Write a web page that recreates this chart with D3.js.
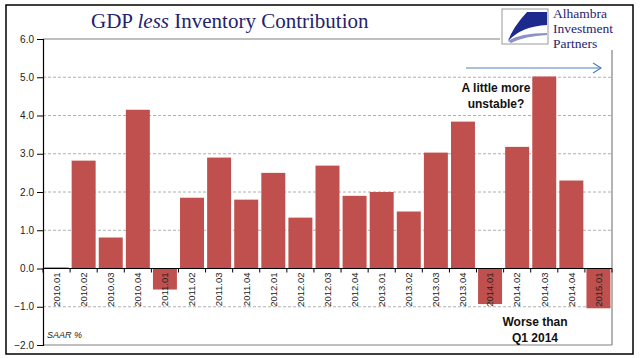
<!DOCTYPE html>
<html><head><meta charset="utf-8">
<script src="https://cdn.jsdelivr.net/npm/d3@7"></script>
<style>body{margin:0;background:#fff}svg{display:block}</style>
</head><body>
<script>
const categories = ["2010.01","2010.02","2010.03","2010.04","2011.01","2011.02","2011.03","2011.04","2012.01","2012.02","2012.03","2012.04","2013.01","2013.02","2013.03","2013.04","2014.01","2014.02","2014.03","2014.04","2015.01"];
const values = [0.03,2.82,0.81,4.15,-0.55,1.85,2.9,1.8,2.5,1.33,2.69,1.9,2.0,1.49,3.03,3.84,-0.93,3.18,5.02,2.3,-1.04];
const yTicks = [-2,-1,0,1,2,3,4,5,6];
const title = ["GDP ","less"," Inventory Contribution"];
const logoLines = ["Alhambra","Investment","Partners"];

const W = 641, H = 358;
const svg = d3.select("body").append("svg").attr("width", W).attr("height", H);

// outer frame
svg.append("rect").attr("x",6).attr("y",5).attr("width",627).attr("height",349)
  .attr("fill","#fff").attr("stroke","#000").attr("stroke-width",1.5);

const L = 43, R = 612;
const x = d3.scaleBand().domain(categories).range([L, R]).paddingInner(0.115).paddingOuter(0.0575);
const y = d3.scaleLinear().domain([-2, 6]).range([345, 39]);

// gridlines
svg.append("g").selectAll("line").data(yTicks.filter(t => t !== 0 && t !== 6 && t !== -2)).join("line")
  .attr("x1", L).attr("x2", R).attr("y1", d => y(d)).attr("y2", d => y(d))
  .attr("stroke", "#b0b0b0").attr("stroke-dasharray", "3,2").attr("stroke-width", 1);

// plot border (gray)
const border = svg.append("g").attr("stroke", "#808080").attr("stroke-width", 1.2).attr("fill", "none");
border.append("line").attr("x1", L).attr("x2", 500).attr("y1", y(6)).attr("y2", y(6));
border.append("line").attr("x1", R).attr("x2", R).attr("y1", 50).attr("y2", y(-2));
border.append("line").attr("x1", L).attr("x2", R).attr("y1", y(-2)).attr("y2", y(-2));

// bars
svg.append("g").selectAll("rect").data(categories).join("rect")
  .attr("x", d => x(d)).attr("width", x.bandwidth())
  .attr("y", (d, i) => y(Math.max(0, values[i])))
  .attr("height", (d, i) => Math.abs(y(values[i]) - y(0)))
  .attr("fill", "#C0504D");

// y axis
const yAxis = svg.append("g").attr("transform", `translate(${L},0)`)
  .call(d3.axisLeft(y).tickValues(yTicks).tickFormat(d3.format(".1f")).tickSize(6).tickPadding(3));
yAxis.select(".domain").attr("stroke", "#000").attr("stroke-width", 1.2);
yAxis.selectAll(".tick line").attr("stroke", "#000");
yAxis.selectAll("text").attr("font-family", "Liberation Sans, Arial, sans-serif").attr("font-size", 10).attr("fill", "#222");

// x axis at zero
const xAxis = svg.append("g").attr("transform", `translate(0,${y(0)})`);
xAxis.append("line").attr("x1", L).attr("x2", R).attr("stroke", "#000").attr("stroke-width", 1.2);
const step = x.step();
xAxis.selectAll("line.tk").data(d3.range(categories.length + 1)).join("line").attr("class", "tk")
  .attr("x1", i => L + i * step).attr("x2", i => L + i * step).attr("y1", 0).attr("y2", 4)
  .attr("stroke", "#000");
xAxis.selectAll("text").data(categories).join("text")
  .attr("transform", d => `translate(${x(d) + x.bandwidth()/2},4) rotate(-90)`)
  .attr("text-anchor", "end").attr("dy", "0.35em")
  .attr("font-family", "Liberation Sans, Arial, sans-serif").attr("font-size", 9.5).attr("fill", "#222")
  .text(d => d);

// title
const t = svg.append("text").attr("x", 91).attr("y", 28)
  .attr("font-family", "Liberation Serif, Times New Roman, serif").attr("font-size", 21).attr("fill", "#1f2370");
t.append("tspan").text(title[0]);
t.append("tspan").attr("font-style", "italic").text(title[1]);
t.append("tspan").text(title[2]);

// logo
svg.append("rect").attr("x", 502).attr("y", 9).attr("width", 46).attr("height", 35)
  .attr("fill", "#fff").attr("stroke", "#9a9a9a");
svg.append("path").attr("d", "M527,12 L547,12 L547,25 Q522,26 508,41 Q513,27 527,12 Z").attr("fill", "#1b2a8c");
svg.append("path").attr("d", "M508,41 Q520,33 547,33 L547,35 Q525,36 511,43 Z").attr("fill", "#8a93c4");
svg.selectAll("text.logo").data(logoLines).join("text").attr("class", "logo")
  .attr("x", 553).attr("y", (d, i) => 18 + i * 15)
  .attr("font-family", "Liberation Serif, Times New Roman, serif").attr("font-size", 13.5).attr("fill", "#1f2370")
  .text(d => d);

// arrow annotation
const ag = svg.append("g").attr("stroke", "#4f81bd").attr("stroke-width", 1.2).attr("fill", "none");
ag.append("line").attr("x1", 466).attr("x2", 601).attr("y1", 68).attr("y2", 68);
ag.append("path").attr("d", "M593,63 L601,68 L593,73");

const ann = (lines, cx, y0, dy) => svg.selectAll(null).data(lines).join("text")
  .attr("x", cx).attr("y", (d, i) => y0 + i * dy).attr("text-anchor", "middle")
  .attr("font-family", "Liberation Sans, Arial, sans-serif").attr("font-weight", "bold")
  .attr("font-size", 12).attr("fill", "#111").text(d => d);
ann(["A little more", "unstable?"], 496, 92, 16);
ann(["Worse than", "Q1 2014"], 535, 326, 16);

svg.append("text").attr("x", 47).attr("y", 338)
  .attr("font-family", "Liberation Sans, Arial, sans-serif").attr("font-style", "italic")
  .attr("font-size", 9).attr("fill", "#222").text("SAAR %");
</script>
</body></html>
